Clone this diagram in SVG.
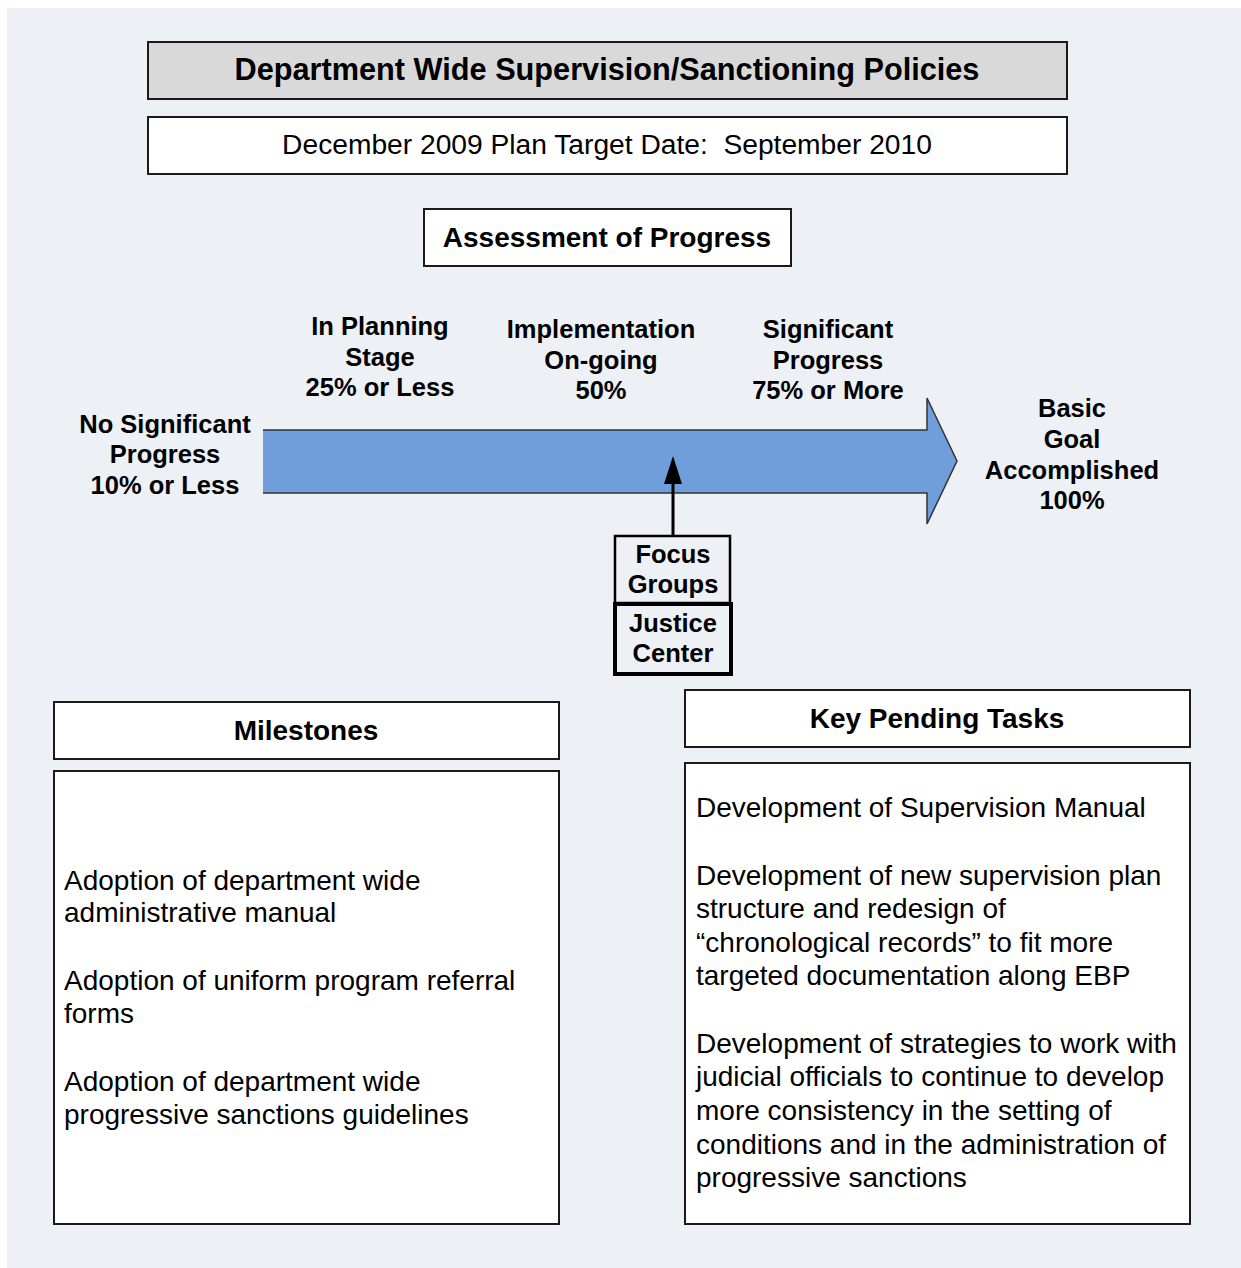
<svg xmlns="http://www.w3.org/2000/svg" width="1241" height="1268" viewBox="0 0 1241 1268">
  <style>
    text { font-family: "Liberation Sans", Arial, sans-serif; fill: #000; }
    .box { fill: #fff; stroke: #1a1a1a; stroke-width: 2; }
    .title { font-size: 30.7px; font-weight: bold; text-anchor: middle; }
    .head { font-size: 28px; font-weight: bold; text-anchor: middle; }
    .sub { font-size: 28.2px; text-anchor: middle; white-space: pre; }
    .lbl { font-size: 25.5px; font-weight: bold; text-anchor: middle; }
    .body { font-size: 28px; }
  </style>
  <defs>
    <marker id="tri" markerWidth="28" markerHeight="18" refX="0" refY="9" viewBox="0 0 28 18" markerUnits="userSpaceOnUse" orient="auto">
      <path d="M0,0 L28,9 L0,18 Z" fill="#000"/>
    </marker>
  </defs>

  <!-- page background -->
  <rect x="7" y="8" width="1234" height="1260" fill="#edf0f5"/>

  <g id="title">
    <rect x="148" y="42" width="919" height="57" fill="#d9d9d9" stroke="#1a1a1a" stroke-width="2"/>
    <text class="title" x="607" y="80">Department Wide Supervision/Sanctioning Policies</text>
  </g>

  <g id="target-date">
    <rect class="box" x="148" y="117" width="919" height="57"/>
    <text class="sub" x="607" y="154" xml:space="preserve">December 2009 Plan Target Date:  September 2010</text>
  </g>

  <g id="assessment">
    <rect class="box" x="424" y="209" width="367" height="57"/>
    <text class="head" x="607" y="247">Assessment of Progress</text>
  </g>

  <!-- progress scale arrow -->
  <g id="progress-arrow">
    <path d="M263,430 L927,430 L927,398 L957,461 L927,524 L927,493 L263,493 Z" fill="#6f9edb"/>
    <path d="M263,430 L927,430 L927,398 L957,461 L927,524 L927,493 L263,493" fill="none" stroke="#333" stroke-width="1.5"/>
  </g>

  <g id="stage-none">
    <text class="lbl" x="165" y="433">No Significant</text>
    <text class="lbl" x="165" y="463">Progress</text>
    <text class="lbl" x="165" y="494">10% or Less</text>
  </g>
  <g id="stage-planning">
    <text class="lbl" x="380" y="335">In Planning</text>
    <text class="lbl" x="380" y="366">Stage</text>
    <text class="lbl" x="380" y="396">25% or Less</text>
  </g>
  <g id="stage-implementation">
    <text class="lbl" x="601" y="338">Implementation</text>
    <text class="lbl" x="601" y="369">On-going</text>
    <text class="lbl" x="601" y="399">50%</text>
  </g>
  <g id="stage-significant">
    <text class="lbl" x="828" y="338">Significant</text>
    <text class="lbl" x="828" y="369">Progress</text>
    <text class="lbl" x="828" y="399">75% or More</text>
  </g>
  <g id="stage-goal">
    <text class="lbl" x="1072" y="417">Basic</text>
    <text class="lbl" x="1072" y="448">Goal</text>
    <text class="lbl" x="1072" y="479">Accomplished</text>
    <text class="lbl" x="1072" y="509">100%</text>
  </g>

  <g id="connectors">
    <line x1="673" y1="536" x2="673" y2="484" stroke="#000" stroke-width="3" marker-end="url(#tri)"/>
  </g>

  <g id="focus-groups">
    <rect x="615" y="536" width="115" height="67" fill="#edf0f5" stroke="#000" stroke-width="2.5"/>
    <text class="lbl" x="673" y="563">Focus</text>
    <text class="lbl" x="673" y="593">Groups</text>
  </g>
  <g id="justice-center">
    <rect x="615" y="604" width="116" height="70" fill="#edf0f5" stroke="#000" stroke-width="4"/>
    <text class="lbl" x="673" y="632">Justice</text>
    <text class="lbl" x="673" y="662">Center</text>
  </g>

  <g id="milestones-head">
    <rect class="box" x="54" y="702" width="505" height="57"/>
    <text class="head" x="306" y="740">Milestones</text>
  </g>
  <g id="milestones-body">
    <rect class="box" x="54" y="771" width="505" height="453"/>
    <text class="body" x="64" y="890">Adoption of department wide</text>
    <text class="body" x="64" y="922">administrative manual</text>
    <text class="body" x="64" y="990">Adoption of uniform program referral</text>
    <text class="body" x="64" y="1023">forms</text>
    <text class="body" x="64" y="1091">Adoption of department wide</text>
    <text class="body" x="64" y="1124">progressive sanctions guidelines</text>
  </g>

  <g id="tasks-head">
    <rect class="box" x="685" y="690" width="505" height="57"/>
    <text class="head" x="937" y="728">Key Pending Tasks</text>
  </g>
  <g id="tasks-body">
    <rect class="box" x="685" y="763" width="505" height="461"/>
    <text class="body" x="696" y="817">Development of Supervision Manual</text>
    <text class="body" x="696" y="885">Development of new supervision plan</text>
    <text class="body" x="696" y="918">structure and redesign of</text>
    <text class="body" x="696" y="952">“chronological records” to fit more</text>
    <text class="body" x="696" y="985">targeted documentation along EBP</text>
    <text class="body" x="696" y="1053">Development of strategies to work with</text>
    <text class="body" x="696" y="1086">judicial officials to continue to develop</text>
    <text class="body" x="696" y="1120">more consistency in the setting of</text>
    <text class="body" x="696" y="1154">conditions and in the administration of</text>
    <text class="body" x="696" y="1187">progressive sanctions</text>
  </g>
</svg>
